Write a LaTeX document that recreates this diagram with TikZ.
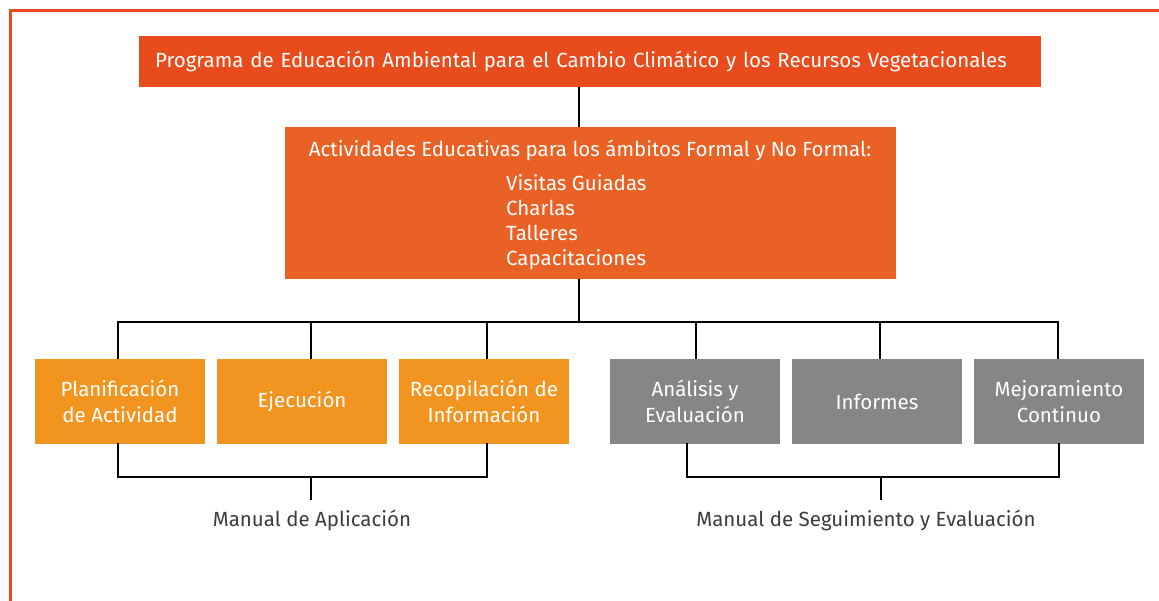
\documentclass[tikz,border=0pt]{standalone}
\usepackage{fontspec}
\setmainfont{Fira Sans}
\usetikzlibrary{positioning}

\definecolor{rojonar}{HTML}{E84B1C}
\definecolor{naranjo}{HTML}{E96125}
\definecolor{amarillo}{HTML}{F29520}
\definecolor{gris}{HTML}{868685}
\definecolor{textogris}{HTML}{3C3C3C}

\begin{document}
\begin{tikzpicture}[
	x=1pt, y=-1pt,
	line width=2.4pt,
	node distance=12pt,
	font=\fontsize{20.5}{26}\selectfont,
	caja/.style={minimum width=170pt, minimum height=85pt, inner sep=0pt, outer sep=0pt, align=center, text=white},
	fase/.style={caja, fill=amarillo},
	revision/.style={caja, fill=gris},
	manual/.style={text=textogris, inner sep=0pt}
]
\useasboundingbox (0,0) rectangle (1159,601);
\draw[rojonar, line width=3pt] (10,601) -- (10,11) -- (1159,11);

% programa y actividades
\node[fill=rojonar, text=white, text width=870pt, inner xsep=16pt, inner ysep=0pt, minimum height=51pt, outer sep=0pt, align=left] (prog) at (590,61.5) {Programa de Educación Ambiental para el Cambio Climático y los Recursos Vegetacionales};
\node[fill=naranjo, minimum width=611pt, minimum height=152pt, inner sep=0pt, outer sep=0pt] (activ) at (590,203) {};
\node[text=white, anchor=base, inner sep=0pt] (titact) at (590,157) {Actividades Educativas para los ámbitos Formal y No Formal:};
\foreach \item [count=\i] in {Visitas Guiadas, Charlas, Talleres, Capacitaciones}
	\node[text=white, anchor=base west, inner sep=0pt] (act\i) at (505,166+25*\i) {\item};

% fases
\node[fase] (plan) at (120,401.5) {Planificación\\de Actividad};
\node[fase, right=of plan] (ejec) {Ejecución};
\node[fase, right=of ejec] (recop) {Recopilación de\\Información};
\node[revision] (anal) at (695,401.5) {Análisis y\\Evaluación};
\node[revision, right=of anal] (inf) {Informes};
\node[revision, right=of inf] (mejora) {Mejoramiento\\Continuo};

% ramas
\coordinate (c0) at (579,0);
\coordinate (rama) at (579,322);
\draw (prog.south -| c0) -- (activ.north -| c0);
\draw (activ.south -| rama) -- (rama);
\foreach \nm/\xx in {plan/118, ejec/311, recop/487, anal/696, inf/880, mejora/1058} {
	\coordinate (r-\nm) at (\xx,322);
	\draw (r-\nm) -- (r-\nm |- \nm.north);
}
\draw[line cap=rect] (r-plan) -- (r-mejora);

% manuales
\node[manual] (manapl) at (312,520) {Manual de Aplicación};
\node[manual] (manseg) at (866,520) {Manual de Seguimiento y Evaluación};
\coordinate (b1) at (118,477);
\coordinate (b2) at (487,477);
\coordinate (b3) at (311,477);
\coordinate (b4) at (687,477);
\coordinate (b5) at (1059,477);
\coordinate (b6) at (881,477);
\coordinate (e3) at (311,500);
\coordinate (e6) at (881,500);
\draw[line cap=rect] (plan.south -| b1) -- (b1) -- (b2) -- (recop.south -| b2);
\draw[line cap=rect] (anal.south -| b4) -- (b4) -- (b5) -- (mejora.south -| b5);
\draw (b3) -- (e3);
\draw (b6) -- (e6);
\end{tikzpicture}
\end{document}
